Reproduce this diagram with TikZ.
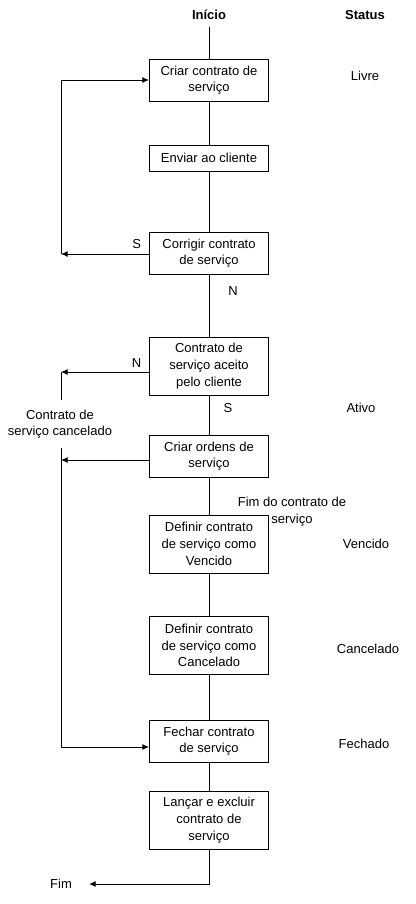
\documentclass[tikz,border=0pt]{standalone}
\usepackage{fontspec}
\setmainfont{Liberation Sans}
\usetikzlibrary{arrows.meta}
\begin{document}
\begin{tikzpicture}[x=0.75pt,y=-0.75pt,>={Latex[length=5pt,width=4.5pt]},
  font=\fontsize{9.75}{12.5}\selectfont,line width=0.75pt,
  box/.style={draw,align=center,minimum width=89.25pt,minimum height=#1,inner sep=0pt},
  lbl/.style={align=center}]
  \useasboundingbox (0,0) rectangle (416,904);
  \node[font=\fontsize{9.75}{12.5}\selectfont\bfseries] (ini) at (209,15) {Início};
  \node[font=\fontsize{9.75}{12.5}\selectfont\bfseries] (st0) at (365,15) {Status};
  \coordinate (top) at (209,27);
  \node[box=31.5pt] (b1) at (209,80) {Criar contrato de\\serviço};
  \node[box=19.5pt] (b2) at (209,158) {Enviar ao cliente};
  \node[box=31.5pt] (b3) at (209,253) {Corrigir contrato\\de serviço};
  \node[box=43.5pt] (b4) at (209,366) {Contrato de\\serviço aceito\\pelo cliente};
  \node[box=31.5pt] (b5) at (209,456) {Criar ordens de\\serviço};
  \node[box=43.5pt] (b6) at (209,544) {Definir contrato\\de serviço como\\Vencido};
  \node[box=43.5pt] (b7) at (209,645.5) {Definir contrato\\de serviço como\\Cancelado};
  \node[box=31.5pt] (b8) at (209,741) {Fechar contrato\\de serviço};
  \node[box=43.5pt] (b9) at (209,820) {Lançar e excluir\\contrato de\\serviço};
  \node (st1) at (365,76) {Livre};
  \node (st2) at (361,408) {Ativo};
  \node (st3) at (366,544) {Vencido};
  \node (st4) at (368,649) {Cancelado};
  \node (st5) at (364,744) {Fechado};
  \node[lbl,inner ysep=7pt] (canc) at (60,424) {Contrato de\\serviço cancelado};
  \node (fim) at (61,884) {Fim};
  \coordinate (l1) at (61,254);
  \coordinate (l2) at (61,372);
  \coordinate (l3) at (61,460);
  \coordinate (l4) at (61,747);
  \coordinate (fimp) at (89,884);
  \draw (top) -- (b1);
  \draw (b1) -- (b2);
  \draw (b2) -- (b3);
  \draw (b3) -- node[pos=0.27,xshift=18pt] {N} (b4);
  \draw (b4) -- node[pos=0.33,xshift=14.25pt] {S} (b5);
  \draw (b5) -- node[lbl,pos=0.92,xshift=62.25pt] {Fim do contrato de\\serviço} (b6);
  \draw (b6) -- (b7);
  \draw (b7) -- (b8);
  \draw (b8) -- (b9);
  \draw[->] (b3.west |- l1) -- node[above,pos=0.14] {S} (l1);
  \draw[->] (l1) |- (b1.west);
  \draw[->] (b4.west |- l2) -- node[above,pos=0.14] {N} (l2);
  \draw (l2) -- (l2 |- canc.north);
  \draw[->] (b5.west |- l3) -- (l3);
  \draw[->] (l2 |- canc.south) -- (l4) -- (b8.west |- l4);
  \draw[->] (b9) |- (fimp);
\end{tikzpicture}
\end{document}
